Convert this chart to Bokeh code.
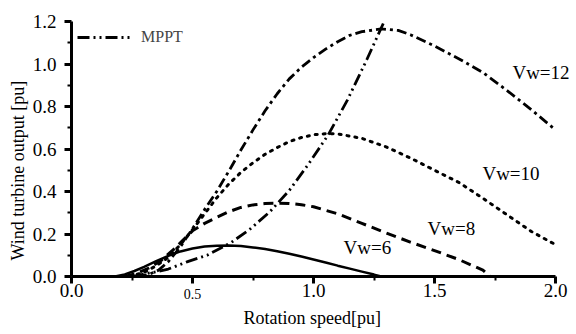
from bokeh.plotting import figure
from bokeh.models import Range1d, FixedTicker, Label, Legend, LegendItem, LinearAxis, Title
from bokeh.embed import file_html
from bokeh.resources import INLINE

# ---- data ----
speed_6 = [0.18, 0.22, 0.26, 0.30, 0.35, 0.40, 0.45, 0.50, 0.55, 0.60, 0.65, 0.70, 0.75, 0.80,
           0.85, 0.90, 0.95, 1.00, 1.05, 1.10, 1.15, 1.20, 1.25, 1.28]
power_6 = [0.000, 0.010, 0.026, 0.045, 0.072, 0.097, 0.118, 0.132, 0.141, 0.145, 0.146, 0.143,
           0.137, 0.129, 0.119, 0.107, 0.094, 0.080, 0.066, 0.051, 0.037, 0.023, 0.009, 0.000]

speed_8 = [0.22, 0.27, 0.32, 0.37, 0.42, 0.46, 0.50, 0.55, 0.60, 0.65, 0.70, 0.75, 0.80, 0.85,
           0.90, 0.95, 1.00, 1.10, 1.20, 1.30, 1.40, 1.50, 1.60, 1.70, 1.73]
power_8 = [0.000, 0.015, 0.040, 0.075, 0.125, 0.170, 0.215, 0.250, 0.278, 0.305, 0.325, 0.337,
           0.343, 0.345, 0.344, 0.338, 0.328, 0.295, 0.250, 0.205, 0.162, 0.122, 0.080, 0.030, 0.000]

speed_10 = [0.24, 0.30, 0.35, 0.40, 0.45, 0.50, 0.55, 0.60, 0.65, 0.70, 0.75, 0.80, 0.85, 0.90,
            0.95, 1.00, 1.05, 1.10, 1.20, 1.30, 1.40, 1.50, 1.60, 1.70, 1.80, 1.90, 2.00]
power_10 = [0.000, 0.020, 0.050, 0.090, 0.150, 0.220, 0.295, 0.370, 0.435, 0.490, 0.535, 0.575,
            0.607, 0.635, 0.654, 0.667, 0.672, 0.671, 0.650, 0.610, 0.558, 0.500, 0.443, 0.368,
            0.290, 0.212, 0.150]

speed_12 = [0.27, 0.32, 0.36, 0.40, 0.45, 0.50, 0.55, 0.60, 0.66, 0.70, 0.75, 0.80, 0.85, 0.90,
            0.95, 1.00, 1.05, 1.10, 1.15, 1.20, 1.28, 1.35, 1.40, 1.50, 1.60, 1.70, 1.80, 1.90, 2.00]
power_12 = [0.000, 0.010, 0.030, 0.070, 0.140, 0.225, 0.315, 0.400, 0.515, 0.595, 0.690, 0.780,
            0.860, 0.930, 0.985, 1.030, 1.070, 1.105, 1.135, 1.152, 1.165, 1.158, 1.138, 1.085,
            1.025, 0.960, 0.875, 0.785, 0.690]

speed_mppt = [0.25, 0.30, 0.35, 0.40, 0.48, 0.56, 0.66, 0.74, 0.82, 0.90, 0.98, 1.06, 1.14, 1.22, 1.29]
power_mppt = [0.000, 0.012, 0.022, 0.035, 0.070, 0.100, 0.160, 0.225, 0.305, 0.405, 0.530, 0.665,
              0.830, 1.020, 1.195]

x_ticks = [0.0, 0.5, 1.0, 1.5, 2.0]
x_minor = [0.25, 0.75, 1.25, 1.75]
x_tick_labels = ["0.0", "0.5", "1.0", "1.5", "2.0"]
x_small_label = "0.5"
y_ticks = [0.0, 0.2, 0.4, 0.6, 0.8, 1.0, 1.2]
y_minor = [0.1, 0.3, 0.5, 0.7, 0.9, 1.1]
y_tick_labels = ["0.0", "0.2", "0.4", "0.6", "0.8", "1.0", "1.2"]

x_title = "Rotation speed[pu]"
y_title = "Wind turbine output [pu]"

curve_labels = ["Vw=6", "Vw=8", "Vw=10", "Vw=12"]
label_x = [1.124, 1.471, 1.698, 1.822]
label_y = [0.136, 0.226, 0.485, 0.960]

FONT = "Liberation Serif"
X_END = 2.0 + 21 / 242.0   # extra room on the right for the "Vw=12" label

p = figure(width=576, height=334, output_backend="svg", toolbar_location=None,
           x_range=Range1d(0, X_END), y_range=Range1d(0, 1.2),
           min_border_left=71, min_border_right=0, min_border_top=21, min_border_bottom=58)

p.xgrid.visible = False
p.ygrid.visible = False
p.outline_line_color = None
p.background_fill_color = "white"

r6 = p.line(speed_6, power_6, line_color="black", line_width=2.5)
r8 = p.line(speed_8, power_8, line_color="black", line_width=3, line_dash="10 6")
r10 = p.line(speed_10, power_10, line_color="black", line_width=3, line_dash="2 6", line_cap="round")
r12 = p.line(speed_12, power_12, line_color="black", line_width=2.8, line_dash="10 4 3 4")
rm = p.line(speed_mppt, power_mppt, line_color="black", line_width=2.8, line_dash="12 4 2 4 2 4")


def style(ax):
    ax.axis_line_width = 3
    ax.axis_line_color = "black"
    ax.major_tick_line_width = 3
    ax.minor_tick_line_width = 2
    ax.major_tick_in = 0
    ax.major_tick_out = 7
    ax.minor_tick_in = 0
    ax.minor_tick_out = 4
    ax.major_label_text_font = FONT
    ax.major_label_text_font_size = "19px"
    ax.major_label_text_color = "black"


# inner x axis: line, ticks and the small "0.5" label
xa = p.xaxis[0]
style(xa)
xa.bounds = (0, 2)
xa.ticker = FixedTicker(ticks=x_ticks, minor_ticks=x_minor)
xa.major_label_overrides = {t: (s if s == x_small_label else "") for t, s in zip(x_ticks, x_tick_labels)}
xa.major_label_text_font_size = "14px"
xa.major_label_standoff = 5

# outer x axis: the other tick labels
xb = LinearAxis(ticker=FixedTicker(ticks=x_ticks, minor_ticks=[]))
style(xb)
xb.bounds = (0, 2)
xb.axis_line_color = None
xb.major_tick_line_color = None
xb.minor_tick_line_color = None
xb.major_tick_out = 0
xb.minor_tick_out = 0
xb.major_label_overrides = {t: ("" if s == x_small_label else s) for t, s in zip(x_ticks, x_tick_labels)}
xb.major_label_standoff = -18
p.add_layout(xb, "below")

p.add_layout(Title(text=x_title, align="left", offset=172, standoff=9,
                   text_font=FONT, text_font_size="18px", text_font_style="normal",
                   text_color="black"), "below")

ya = p.yaxis[0]
style(ya)
ya.ticker = FixedTicker(ticks=y_ticks, minor_ticks=y_minor)
ya.major_label_overrides = {t: s for t, s in zip(y_ticks, y_tick_labels)}
ya.major_label_standoff = 8

p.add_layout(Title(text=y_title, align="left", offset=16, standoff=4,
                   text_font=FONT, text_font_size="18px", text_font_style="normal",
                   text_color="black"), "left")

for t, lx, ly in zip(curve_labels, label_x, label_y):
    p.add_layout(Label(x=lx, y=ly, text=t, text_align="left", text_baseline="middle",
                       text_font=FONT, text_font_size="19px", text_color="black"))

legend = Legend(items=[LegendItem(label="MPPT", renderers=[rm])], location=(6, 229),
                glyph_width=55, glyph_height=20, label_height=20, label_standoff=9,
                label_text_font=FONT, label_text_font_size="16px",
                border_line_alpha=0, background_fill_alpha=0, padding=0, margin=0, spacing=0)
p.add_layout(legend)

open("out.html", "w").write(file_html(p, INLINE))
